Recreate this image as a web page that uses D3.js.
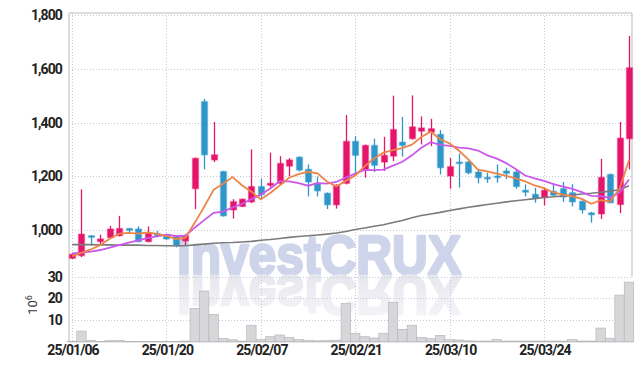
<!DOCTYPE html>
<html>
<head>
<meta charset="utf-8">
<script src="https://cdn.jsdelivr.net/npm/d3@7/dist/d3.min.js"></script>
<style>
body { margin: 0; background: #fff; }
svg { display: block; font-family: Roboto, "Liberation Sans", sans-serif; }
</style>
</head>
<body>
<svg id="chart" width="642" height="370"></svg>
<script>
// trading days 25/01/06 .. 25/04/04
var dates = ["25/01/06","25/01/07","25/01/08","25/01/09","25/01/10","25/01/13","25/01/14","25/01/15","25/01/16","25/01/17",
    "25/01/20","25/01/21","25/01/22","25/01/23","25/01/24","25/01/31","25/02/03","25/02/04","25/02/05","25/02/06",
    "25/02/07","25/02/10","25/02/11","25/02/12","25/02/13","25/02/14","25/02/17","25/02/18","25/02/19","25/02/20",
    "25/02/21","25/02/24","25/02/25","25/02/26","25/02/27","25/02/28","25/03/04","25/03/05","25/03/06","25/03/07",
    "25/03/10","25/03/11","25/03/12","25/03/13","25/03/14","25/03/17","25/03/18","25/03/19","25/03/20","25/03/21",
    "25/03/24","25/03/25","25/03/26","25/03/27","25/03/28","25/03/31","25/04/01","25/04/02","25/04/03","25/04/04"]

var open  = [895,905,979,957,972,979,1006,1004,957,987, 983,979,960,1154,1478,1261,1218,1075,1088,1105,
             1162,1167,1174,1238,1271,1226,1174,1137,1094,1174, 1330,1223,1315,1253,1275,1327,1340,1368,1364,1356,
             1201,1253,1253,1216,1196,1201,1220,1216,1148,1133, 1121,1144,1154,1139,1107,1064,1060,1207,1095,1340]
var high  = [915,1152,981,983,1016,1053,1008,1014,1014,997, 985,981,985,1270,1488,1402,1220,1115,1117,1300,
             1191,1288,1275,1268,1275,1244,1199,1140,1170,1428, 1349,1318,1340,1347,1500,1421,1501,1423,1414,1372,
             1268,1285,1257,1226,1214,1244,1232,1226,1170,1157, 1158,1174,1179,1171,1110,1068,1265,1210,1402,1722]
var low   = [893,900,942,948,967,977,985,955,955,977, 964,936,944,1078,1226,1253,1050,1043,1086,1100,
             1115,1158,1170,1201,1218,1125,1125,1078,1080,1170, 1201,1195,1216,1220,1257,1273,1337,1319,1312,1207,
             1154,1158,1207,1174,1176,1176,1190,1154,1125,1102, 1092,1127,1105,1088,1062,1028,1041,1100,1063,1226]
var close = [910,985,973,967,1004,1006,999,957,989,979, 967,942,979,1267,1280,1280,1053,1106,1115,1162,
             1132,1174,1248,1261,1223,1179,1146,1094,1167,1330, 1278,1315,1241,1278,1374,1315,1384,1380,1377,1232,
             1236,1250,1213,1195,1194,1198,1211,1162,1141,1118, 1148,1130,1123,1105,1075,1057,1196,1102,1342,1604]

// moving averages
var ma5  = [903,915,928,945,968,987,990,987,991,986, 978,967,971,1027,1087,1150,1172,1197,1167,1143,
            1114,1138,1166,1195,1208,1217,1211,1181,1162,1183, 1203,1237,1266,1288,1297,1305,1318,1346,1366,1338,
            1322,1295,1262,1225,1218,1210,1202,1192,1181,1166, 1156,1140,1132,1125,1116,1098,1111,1107,1154,1260]
var ma10 = [913,916,920,926,935,944,953,962,970,977, 983,978,979,1009,1037,1064,1069,1084,1097,1115,
            1132,1155,1182,1181,1175,1165,1175,1173,1179,1195, 1210,1224,1223,1225,1240,1254,1278,1306,1327,1317,
            1313,1307,1304,1296,1278,1266,1249,1227,1203,1192, 1183,1171,1162,1153,1141,1127,1126,1120,1140,1188]
var maLong = [946,946,946,945,945,944,944,944,943,943, 942,942,942,945,948,951,953,954,956,958,
              962,965,969,973,976,979,982,985,989,995, 1002,1008,1014,1020,1028,1036,1046,1054,1060,1066,
              1073,1079,1085,1090,1095,1100,1105,1109,1113,1117, 1121,1124,1127,1130,1134,1137,1141,1145,1150,1165]

// volume, x 10^6
var volume = [0.2,4.9,0.6,0.1,0.5,0.5,0.1,0.1,0.1,0.1, 0.1,0.1,0.3,15.4,23.4,12.6,1.5,0.9,0.3,7.6,
              1.0,2.3,3.1,2.0,1.0,0.5,0.4,0.6,0.7,17.7, 3.9,2.3,1.7,3.9,18.2,5.7,7.6,2.0,1.4,2.9,
              1.0,0.8,0.4,0.3,0.3,1.0,0.3,0.3,0.3,0.3, 0.3,0.3,0.3,1.0,0.3,0.3,6.3,1.6,21.5,27.5]

var xTicks = [0, 10, 20, 30, 40, 50]
var priceTicks = [1000, 1200, 1400, 1600, 1800]
var volTicks = [10, 20, 30]

var dimensions = {
    left: 69,
    right: 632,
    top: 13,
    volTop: 276.7,
    bottom: 341.7,
    body: 6,
    bar: 9.4
}

var colors = { up: "#e5156b", down: "#2f96c9", ma5: "#ee8548", ma10: "#cc58ea", maLong: "#7b7b7b", grid: "#c3c8dc" }

var svg = d3.select("#chart")

var xScale = d3.scaleLinear().domain([-0.32, 59.32]).range([dimensions.left, dimensions.right])
var yPrice = d3.scaleLinear().domain([1000, 1800]).range([230.1, 15])
var yVol = d3.scaleLinear().domain([0, 30]).range([dimensions.bottom, dimensions.volTop])

// watermark + its reflection (one text, drawn twice)
var defs = svg.append("defs")
var grad = defs.append("linearGradient").attr("id", "fade").attr("x1", 0).attr("y1", 0).attr("x2", 0).attr("y2", 1)
grad.append("stop").attr("offset", "0%").attr("stop-color", "#f7f7fa")
grad.append("stop").attr("offset", "100%").attr("stop-color", "#e3e3eb")

defs.append("text")
    .attr("id", "wm")
    .attr("x", 177).attr("y", 273.5)
    .attr("textLength", 284).attr("lengthAdjust", "spacingAndGlyphs")
    .style("font-family", "'Liberation Sans', Arial, sans-serif")
    .style("font-weight", 700).style("font-size", "55px")
    .attr("stroke-width", 2.6).attr("stroke-linejoin", "round")
    .text("InvestCRUX")

svg.append("use").attr("href", "#wm").attr("fill", "#ced5ea").attr("stroke", "#ced5ea")
svg.append("use").attr("href", "#wm")
    .attr("transform", "translate(0,549) scale(1,-1)")
    .attr("fill", "url(#fade)").attr("stroke", "url(#fade)")

// grid
var grid = svg.append("g").attr("stroke", colors.grid).attr("stroke-dasharray", "1,2").attr("stroke-width", 1)
grid.selectAll(".gx").data(xTicks).enter().append("line")
    .attr("x1", d => Math.round(xScale(d)) + 0.5).attr("x2", d => Math.round(xScale(d)) + 0.5)
    .attr("y1", dimensions.top).attr("y2", dimensions.bottom)
grid.selectAll(".gp").data(priceTicks).enter().append("line")
    .attr("x1", dimensions.left).attr("x2", dimensions.right)
    .attr("y1", d => Math.round(yPrice(d)) + 0.5).attr("y2", d => Math.round(yPrice(d)) + 0.5)
grid.selectAll(".gv").data(volTicks).enter().append("line")
    .attr("x1", dimensions.left).attr("x2", dimensions.right)
    .attr("y1", d => Math.round(yVol(d)) + 0.5).attr("y2", d => Math.round(yVol(d)) + 0.5)

// frame
var frame = svg.append("g").attr("stroke", "#d2d2d6").attr("stroke-width", 1.5).attr("fill", "none")
frame.append("line").attr("x1", dimensions.left).attr("x2", dimensions.right).attr("y1", dimensions.top).attr("y2", dimensions.top)
frame.append("line").attr("x1", dimensions.left).attr("x2", dimensions.left).attr("y1", dimensions.top).attr("y2", dimensions.bottom)
frame.append("line").attr("x1", dimensions.right).attr("x2", dimensions.right).attr("y1", dimensions.top).attr("y2", dimensions.volTop)
frame.append("line").attr("x1", dimensions.left).attr("x2", dimensions.right + 1).attr("y1", dimensions.bottom).attr("y2", dimensions.bottom)

// volume bars
svg.append("g")
    .selectAll("rect")
    .data(volume)
    .enter()
    .append("rect")
    .attr("x", (d, i) => xScale(i) - dimensions.bar / 2)
    .attr("y", d => yVol(d))
    .attr("width", dimensions.bar)
    .attr("height", d => yVol(0) - yVol(d))
    .attr("fill", "#d7d7d9")
    .attr("stroke", "#b8b8bc")
    .attr("stroke-width", 0.7)

// candles
var idx = d3.range(close.length)
var col = i => close[i] >= open[i] ? colors.up : colors.down

svg.append("g")
    .selectAll("line")
    .data(idx)
    .enter()
    .append("line")
    .attr("x1", i => Math.round(xScale(i)) + 0.5)
    .attr("x2", i => Math.round(xScale(i)) + 0.5)
    .attr("y1", i => yPrice(high[i]))
    .attr("y2", i => yPrice(low[i]))
    .attr("stroke", col)
    .attr("stroke-width", 1.3)

svg.append("g")
    .selectAll("rect")
    .data(idx)
    .enter()
    .append("rect")
    .attr("x", i => Math.round(xScale(i)) + 0.5 - dimensions.body / 2)
    .attr("y", i => yPrice(Math.max(open[i], close[i])))
    .attr("width", dimensions.body)
    .attr("height", i => Math.max(1.5, Math.abs(yPrice(open[i]) - yPrice(close[i]))))
    .attr("fill", col)
    .attr("stroke", col)
    .attr("stroke-opacity", 0.35)
    .attr("stroke-width", 1.5)

// moving averages
var lineGen = d3.line().x((d, i) => xScale(i)).y(d => yPrice(d))
svg.append("path").attr("d", lineGen(maLong)).attr("fill", "none").attr("stroke", colors.maLong).attr("stroke-width", 1.6)
svg.append("path").attr("d", lineGen(ma10)).attr("fill", "none").attr("stroke", colors.ma10).attr("stroke-width", 1.8)
svg.append("path").attr("d", lineGen(ma5)).attr("fill", "none").attr("stroke", colors.ma5).attr("stroke-width", 1.8)

// axes
var yAxisGen = d3.axisLeft(yPrice).tickValues(priceTicks).tickFormat(d3.format(",")).tickSize(0).tickPadding(0)
var yAxis = svg.append("g")
    .call(yAxisGen)
    .attr("transform", "translate(62,0)")
yAxis.select(".domain").remove()

var vAxisGen = d3.axisLeft(yVol).tickValues(volTicks).tickSize(0).tickPadding(0)
var vAxis = svg.append("g")
    .call(vAxisGen)
    .attr("transform", "translate(62,0)")
vAxis.select(".domain").remove()

var xAxisGen = d3.axisBottom(xScale).tickValues(xTicks).tickFormat(i => dates[i]).tickSize(0).tickPadding(0)
var xAxis = svg.append("g")
    .call(xAxisGen)
    .attr("transform", "translate(0.5,345)")
xAxis.select(".domain").remove()

svg.selectAll(".tick text")
    .style("font-family", "Roboto, sans-serif")
    .style("font-weight", 700)
    .style("font-size", "14px")
    .style("letter-spacing", "-0.9px")
    .attr("fill", "#222")

var unit = svg.append("text")
    .attr("transform", "translate(37,305) rotate(-90)")
    .attr("text-anchor", "middle")
    .style("font-size", "13px")
    .attr("fill", "#333")
unit.append("tspan").text("10")
unit.append("tspan").attr("dy", -5).style("font-size", "9px").text("6")
</script>
</body>
</html>
